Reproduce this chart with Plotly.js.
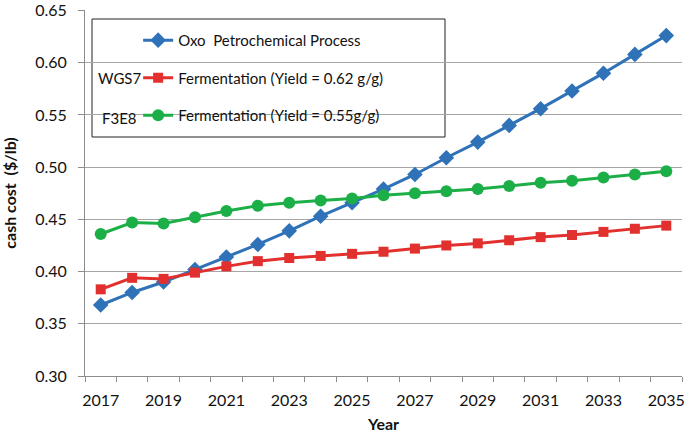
<!DOCTYPE html>
<html>
<head>
<meta charset="utf-8">
<script src="https://cdn.plot.ly/plotly-3.0.1.min.js"></script>
<style>
  html, body { margin: 0; padding: 0; background: #fff; }
  #chart { width: 685px; height: 434px; }
</style>
</head>
<body>
<div id="chart"></div>
<script>
var years = [2017, 2018, 2019, 2020, 2021, 2022, 2023, 2024, 2025, 2026,
             2027, 2028, 2029, 2030, 2031, 2032, 2033, 2034, 2035];

// cash cost ($/lb)
var oxo = [0.368, 0.380, 0.390, 0.402, 0.414, 0.426, 0.439, 0.453, 0.466, 0.479,
           0.493, 0.509, 0.524, 0.540, 0.556, 0.573, 0.590, 0.608, 0.626];
var ferm62 = [0.383, 0.394, 0.393, 0.399, 0.405, 0.410, 0.413, 0.415, 0.417, 0.419,
              0.422, 0.425, 0.427, 0.430, 0.433, 0.435, 0.438, 0.441, 0.444];
var ferm55 = [0.436, 0.447, 0.446, 0.452, 0.458, 0.463, 0.466, 0.468, 0.470, 0.473,
              0.475, 0.477, 0.479, 0.482, 0.485, 0.487, 0.490, 0.493, 0.496];

var seriesNames = ['Oxo  Petrochemical Process',
                   'Fermentation (Yield = 0.62 g/g)',
                   'Fermentation (Yield = 0.55g/g)'];
var strainLabels = ['WGS7', 'F3E8'];
var yearLabels = [2017, 2019, 2021, 2023, 2025, 2027, 2029, 2031, 2033, 2035];

var font = 'Lato, "Open Sans", sans-serif';

var traces = [
  {
    x: years, y: oxo, name: seriesNames[0], legendgroup: 'a',
    type: 'scatter', mode: 'lines+markers',
    line: {color: '#2F72B8', width: 3},
    marker: {symbol: 'diamond', size: 12, color: '#2F72B8'}
  },
  {
    x: years, y: ferm62, name: seriesNames[1], legendgroup: 'b',
    type: 'scatter', mode: 'lines+markers',
    line: {color: '#E2302F', width: 3},
    marker: {symbol: 'square', size: 10, color: '#E2302F'}
  },
  {
    x: years, y: ferm55, name: seriesNames[2], legendgroup: 'c',
    type: 'scatter', mode: 'lines+markers',
    line: {color: '#1DAF47', width: 3},
    marker: {symbol: 'circle', size: 12, color: '#1DAF47'}
  }
];

var layout = {
  width: 685, height: 434,
  margin: {l: 85, r: 3, t: 10, b: 58},
  paper_bgcolor: '#fff', plot_bgcolor: '#fff',
  font: {family: font, size: 16, color: '#111'},
  showlegend: true,
  legend: {
    x: 0.089, y: 0.962, xanchor: 'left', yanchor: 'top',
    bgcolor: 'rgba(0,0,0,0)', borderwidth: 0,
    traceorder: 'grouped', tracegroupgap: 15,
    font: {family: font, size: 15, color: '#111'}
  },
  xaxis: {
    range: [2016.5, 2035.5],
    tickvals: yearLabels, ticks: '',
    showgrid: false, zeroline: false,
    showline: true, linecolor: '#8c8c8c', linewidth: 1,
    minor: {tick0: 2016.5, dtick: 1, ticks: 'outside', ticklen: 5, tickcolor: '#8c8c8c', showgrid: false},
    tickfont: {size: 16}, ticklabelstandoff: 10,
    title: {text: '<b>Year</b>', font: {size: 16}, standoff: 10}
  },
  yaxis: {
    range: [0.30, 0.6505], tickvals: [0.30, 0.35, 0.40, 0.45, 0.50, 0.55, 0.60, 0.65],
    tickformat: '.2f', ticklabeloverflow: 'allow',
    ticks: 'outside', ticklen: 6, tickcolor: '#8c8c8c',
    showgrid: true, gridcolor: '#a6a6a6', gridwidth: 1,
    zeroline: false, showline: true, linecolor: '#8c8c8c', linewidth: 1,
    tickfont: {size: 16}, ticklabelstandoff: 8,
    title: {text: '<b>cash cost  ($/lb)</b>', font: {size: 16}, standoff: 18}
  },
  shapes: [
    {type: 'rect', xref: 'paper', yref: 'paper', layer: 'between',
     x0: (92 - 85) / 597, x1: (445 - 85) / 597,
     y0: (376 - 137) / 366, y1: (376 - 19) / 366,
     line: {color: '#222', width: 1}, fillcolor: '#fff'}
  ],
  annotations: [
    {text: strainLabels[0], xref: 'paper', yref: 'paper',
     xanchor: 'center', yanchor: 'middle',
     x: (119 - 85) / 597, y: (376 - 78) / 366, showarrow: false,
     font: {family: font, size: 15, color: '#111'}},
    {text: strainLabels[1], xref: 'paper', yref: 'paper',
     xanchor: 'center', yanchor: 'middle',
     x: (119 - 85) / 597, y: (376 - 118) / 366, showarrow: false,
     font: {family: font, size: 15, color: '#111'}}
  ]
};

Plotly.newPlot('chart', traces, layout, {staticPlot: true, displayModeBar: false});
</script>
</body>
</html>
